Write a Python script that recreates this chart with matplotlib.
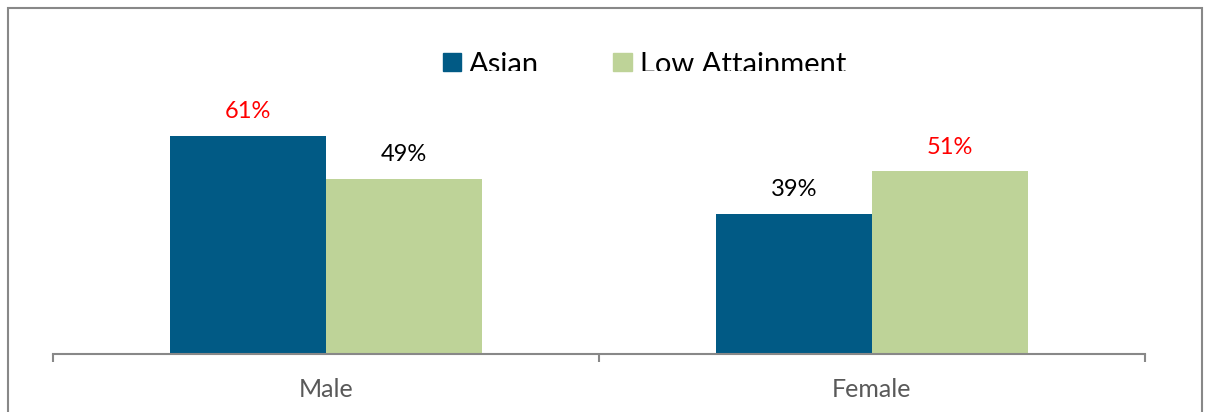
import matplotlib
matplotlib.use("Agg")
import matplotlib.pyplot as plt
from matplotlib.patches import Rectangle
from matplotlib.transforms import Bbox, TransformedBbox

categories = ["Male", "Female"]
series_names = ["Asian", "Low Attainment"]
asian = [61, 39]
low_att = [49, 51]
label_colors_asian = ["#ff0000", "#000000"]
label_colors_low = ["#000000", "#ff0000"]

W, H = 1206, 412
fig = plt.figure(figsize=(W / 100, H / 100), dpi=100)
plt.rcParams['font.family'] = ['Lato', 'DejaVu Sans']

x0, x1 = 53, 1145
ybot, ytop = 354, 8
ax = fig.add_axes([x0 / W, 1 - ybot / H, (x1 - x0) / W, (ybot - ytop) / H])
px_per = 3.58
ax.set_ylim(0, (ybot - ytop) / px_per)
ax.set_xlim(-0.5, 1.5)

c_asian = "#015a85"
c_low = "#bed398"
bw = 156 / 546
xs = list(range(len(categories)))
b1 = ax.bar([x - bw / 2 for x in xs], asian, width=bw, color=c_asian, label=series_names[0])
b2 = ax.bar([x + bw / 2 for x in xs], low_att, width=bw, color=c_low, label=series_names[1])

for bars, vals, cols in ((b1, asian, label_colors_asian), (b2, low_att, label_colors_low)):
    for rect, v, c in zip(bars, vals, cols):
        ax.annotate(f"{v}%", (rect.get_x() + rect.get_width() / 2, v), xytext=(0, 10),
                    textcoords="offset points", ha="center", va="bottom", fontsize=17, color=c)

for s in ["top", "right", "left"]:
    ax.spines[s].set_visible(False)
ax.spines["bottom"].set_color("#888888")
ax.spines["bottom"].set_linewidth(1.5)
ax.set_yticks([])
ax.set_xticks([-0.5, 0.5, 1.5], minor=False)
ax.set_xticklabels([])
ax.tick_params(axis="x", which="major", length=6, width=1.5, color="#888888", direction="out")
ax.set_xticks(xs, minor=True)
ax.set_xticklabels(categories, minor=True, fontsize=18, color="#595959")
ax.tick_params(axis="x", which="minor", length=0, pad=17)

def fx(px):
    return px / W
def fy(py):
    return 1 - py / H

fig.patches.append(Rectangle((fx(443), fy(71)), 18 / W, 18 / H, transform=fig.transFigure,
                             color=c_asian, figure=fig))
fig.patches.append(Rectangle((fx(613), fy(71)), 19 / W, 18 / H, transform=fig.transFigure,
                             color=c_low, figure=fig))
cb = TransformedBbox(Bbox([[0, fy(71)], [1, 1]]), fig.transFigure)
t1 = fig.text(fx(469), fy(73), series_names[0], fontsize=21, va="baseline", ha="left")
t2 = fig.text(fx(640), fy(73), series_names[1], fontsize=21, va="baseline", ha="left")
for t in (t1, t2):
    t.set_clip_box(cb)
    t.set_clip_on(True)

fig.patches.append(Rectangle((fx(8), fy(430)), (1202 - 8) / W, (430 - 8) / H,
                             transform=fig.transFigure, fill=False, edgecolor="#888888",
                             linewidth=1.5, figure=fig))

fig.savefig("out.png", dpi=100)
